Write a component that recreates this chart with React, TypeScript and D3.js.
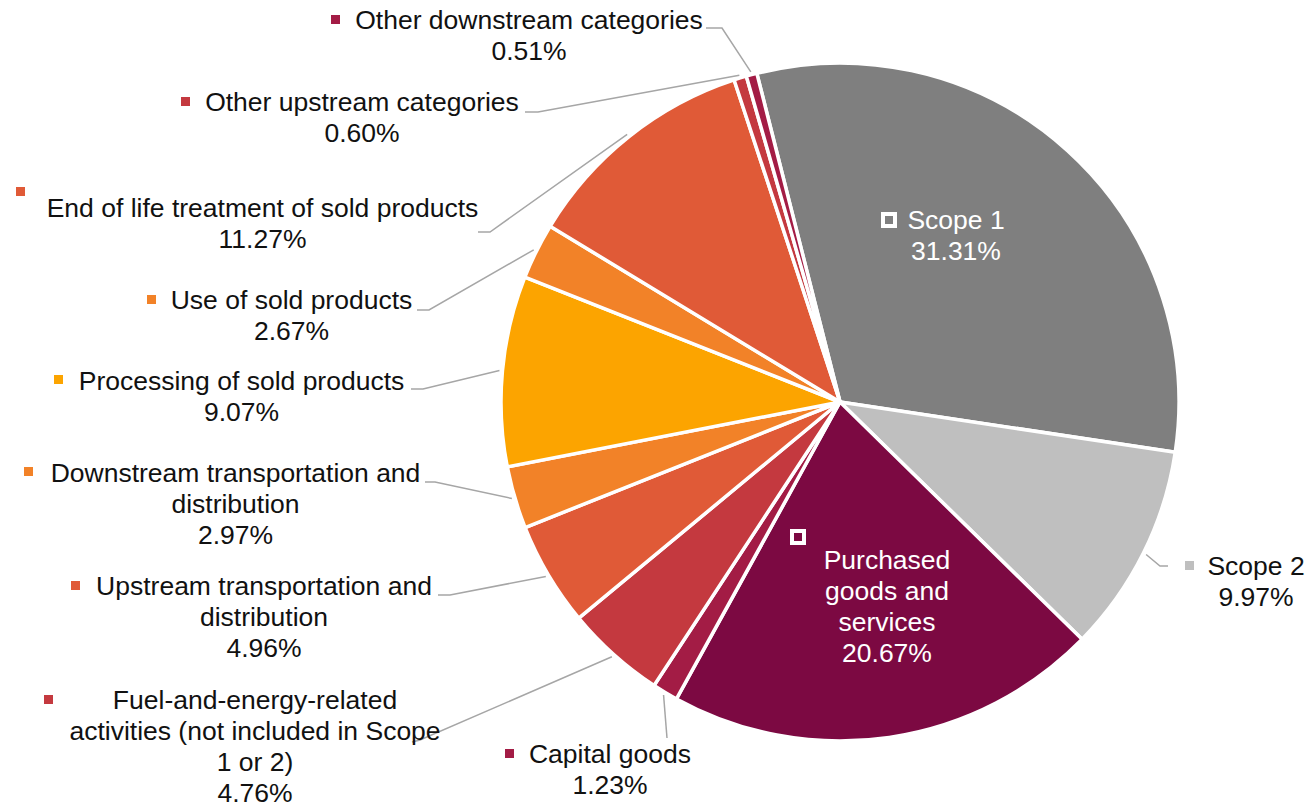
import { useMemo } from 'react';
import * as d3 from 'd3';

// data
const categories = [
  'Scope 1',
  'Scope 2',
  'Purchased goods and services',
  'Capital goods',
  'Fuel-and-energy-related activities (not included in Scope 1 or 2)',
  'Upstream transportation and distribution',
  'Downstream transportation and distribution',
  'Processing of sold products',
  'Use of sold products',
  'End of life treatment of sold products',
  'Other upstream categories',
  'Other downstream categories',
];

const shares = [31.31, 9.97, 20.67, 1.23, 4.76, 4.96, 2.97, 9.07, 2.67, 11.27, 0.6, 0.51];

// wrapped label text, as it breaks in the original
const labelLines = [
  ['Scope 1'],
  ['Scope 2'],
  ['Purchased', 'goods and', 'services'],
  ['Capital goods'],
  ['Fuel-and-energy-related', 'activities (not included in Scope', '1 or 2)'],
  ['Upstream transportation and', 'distribution'],
  ['Downstream transportation and', 'distribution'],
  ['Processing of sold products'],
  ['Use of sold products'],
  ['End of life treatment of sold products'],
  ['Other upstream categories'],
  ['Other downstream categories'],
];

const colors = [
  '#7f7f7f',
  '#bfbfbf',
  '#7c0942',
  '#a31c45',
  '#c4393f',
  '#e05a37',
  '#f28228',
  '#fca400',
  '#f28228',
  '#e05a37',
  '#c4393f',
  '#a31c45',
];

// label placement (layout only)
interface LabelPos {
  cx: number;
  y: number;
  mx: number;
  my: number;
  inside?: boolean;
  leader?: [number, number][];
}

const labelPos: LabelPos[] = [
  { cx: 956, y: 229, mx: 883, my: 214, inside: true },
  { cx: 1256, y: 575, mx: 1185, my: 561, leader: [[1168, 566], [1160, 566]] },
  { cx: 887, y: 569, mx: 792, my: 531, inside: true },
  { cx: 610, y: 763, mx: 505, my: 749, leader: [[667, 738], [667, 738]] },
  { cx: 255, y: 709, mx: 44, my: 695, leader: [[412, 742], [420, 740]] },
  { cx: 264, y: 595, mx: 71, my: 581, leader: [[438, 595], [450, 595]] },
  { cx: 235.5, y: 482, mx: 24, my: 467, leader: [[425, 482], [435, 482]] },
  { cx: 241.5, y: 390, mx: 54, my: 375, leader: [[411, 389], [423, 389]] },
  { cx: 291.5, y: 309, mx: 147, my: 295, leader: [[417, 310], [429, 310]] },
  { cx: 262.5, y: 217, mx: 16, my: 187, leader: [[478, 232], [490, 232]] },
  { cx: 362, y: 111, mx: 181, my: 97, leader: [[525, 112], [538, 112]] },
  { cx: 529, y: 29, mx: 331, my: 15, leader: [[706, 28], [722, 28]] },
];

const width = 1311;
const height = 808;
const cx = 840;
const cy = 402;
const radius = 339;
const lineHeight = 31;
const font = '"Liberation Sans", Arial, sans-serif';

interface Slice {
  name: string;
  value: number;
  index: number;
}

export default function App() {
  const data: Slice[] = categories.map((name, i) => ({ name, value: shares[i], index: i }));

  const arcs = useMemo(() => {
    const start = (-14.2 * Math.PI) / 180;
    const pie = d3
      .pie<Slice>()
      .sort(null)
      .value(d => d.value)
      .startAngle(start)
      .endAngle(start + 2 * Math.PI);
    return pie(data);
  }, []);

  const arc = d3.arc<d3.PieArcDatum<Slice>>().innerRadius(0).outerRadius(radius);
  const edge = d3
    .arc<d3.PieArcDatum<Slice>>()
    .innerRadius(radius + 3)
    .outerRadius(radius + 3);
  const line = d3.line();
  const fmt = d3.format('.2f');

  return (
    <svg
      width={width}
      height={height}
      style={{ position: 'absolute', left: 0, top: 0, background: '#fff' }}
    >
      <g transform={`translate(${cx},${cy})`}>
        {arcs.map(d => (
          <path
            key={d.data.name}
            d={arc(d) || ''}
            fill={colors[d.data.index]}
            stroke="#fff"
            strokeWidth={3.5}
            strokeLinejoin="round"
          />
        ))}
      </g>

      {arcs.map(d => {
        const i = d.data.index;
        const p = labelPos[i];
        if (!p.leader) return null;
        const [ex, ey] = edge.centroid(d);
        const pts: [number, number][] = [...p.leader, [ex + cx, ey + cy]];
        return (
          <path
            key={`leader-${i}`}
            d={line(pts) || ''}
            fill="none"
            stroke="#a6a6a6"
            strokeWidth={1.5}
          />
        );
      })}

      {arcs.map(d => {
        const i = d.data.index;
        const p = labelPos[i];
        const lines = [...labelLines[i], `${fmt(d.data.value)}%`];
        const textColor = p.inside ? '#fff' : '#111';
        return (
          <g key={`label-${i}`}>
            {p.inside ? (
              <rect
                x={p.mx}
                y={p.my}
                width={12}
                height={12}
                fill="none"
                stroke="#fff"
                strokeWidth={4}
              />
            ) : (
              <rect x={p.mx} y={p.my} width={9} height={9} fill={colors[i]} />
            )}
            <text
              textAnchor="middle"
              fontFamily={font}
              fontSize={26.5}
              fill={textColor}
            >
              {lines.map((t, k) => (
                <tspan key={k} x={p.cx} y={p.y + k * lineHeight}>
                  {t}
                </tspan>
              ))}
            </text>
          </g>
        );
      })}
    </svg>
  );
}
